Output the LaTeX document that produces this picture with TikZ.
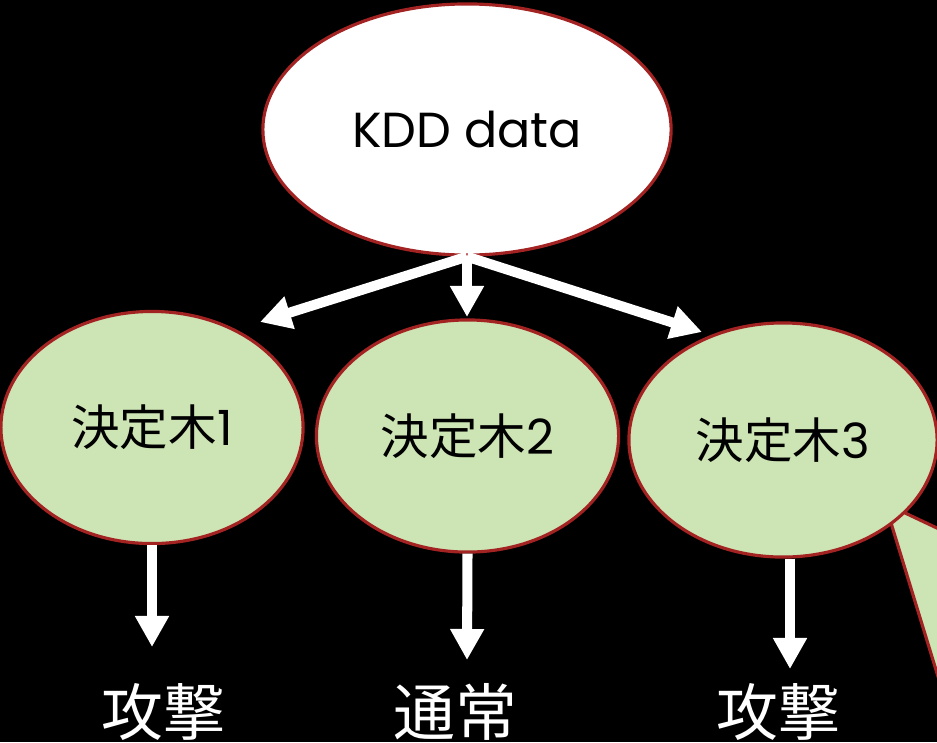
\documentclass[tikz,border=0pt]{standalone}
\usepackage{fontspec}
\setmainfont{Poppins}
\newfontfamily\jpfont{Noto Sans CJK JP}
\usetikzlibrary{arrows.meta,shapes.geometric}
\definecolor{leafgreen}{HTML}{CDE4B5}
\definecolor{rimred}{HTML}{A32323}
\tikzset{
    datanode/.style={ellipse, draw=rimred, line width=0.9pt, fill=white,
        inner sep=0pt, minimum width=4.08cm, minimum height=2.51cm,
        font=\fontsize{14}{16}\selectfont},
    treenode/.style={ellipse, draw=rimred, line width=0.9pt, fill=leafgreen,
        inner sep=0pt, minimum width=3.02cm, minimum height=2.32cm,
        font=\fontsize{13.8}{16}\selectfont},
    result/.style={text=white, inner sep=0pt,
        font=\jpfont\fontsize{17.6}{20}\selectfont},
    flow/.style={-{Triangle[length=3.1mm,width=3.2mm]}, line width=2.85pt, draw=white},
    callout/.style={fill=leafgreen, draw=rimred, line width=0.9pt}
}

\begin{document}
\begin{tikzpicture}[x=0.01cm, y=-0.01cm]
        \fill[black] (0,0) rectangle (937,742);
        \useasboundingbox (0,0) rectangle (937,742);
        \clip (0,0) rectangle (937,742);
        % tail of a callout leaving the third tree
        \draw[callout] (970,781) -- (891,523) -- (903,512) -- (1100,605);
        \node[datanode] (kdd) at (467,129.5) {KDD data};
        \node[treenode] (tree1) at (152,427.5) {{\jpfont 決定木}1};
        \node[treenode] (tree2) at (467.5,436) {{\jpfont 決定木}2};
        \node[treenode,minimum width=3.08cm,minimum height=2.34cm] (tree3) at (783,440) {{\jpfont 決定木}3};
        \node[result] (res1) at (163,712) {攻撃};
        \node[result] (res2) at (455,712) {通常};
        \node[result] (res3) at (778,712) {攻撃};
        \coordinate (tip1) at (260,322);
        \coordinate (tip2) at (467,317);
        \coordinate (tip3) at (702,332);
        \coordinate (drop1) at (152,647);
        \coordinate (drop2) at (467,660);
        \coordinate (drop3) at (790,669);
        \draw[flow] (kdd.south) -- (tip1);
        \draw[flow] (kdd.south) -- (tip2);
        \draw[flow] (kdd.south) -- (tip3);
        \draw[flow] (tree1.south) -- (drop1);
        \draw[flow] (tree2.south) -- (drop2);
        \draw[flow] (drop3 |- tree3.south) -- (drop3);
    \end{tikzpicture}
\end{document}
